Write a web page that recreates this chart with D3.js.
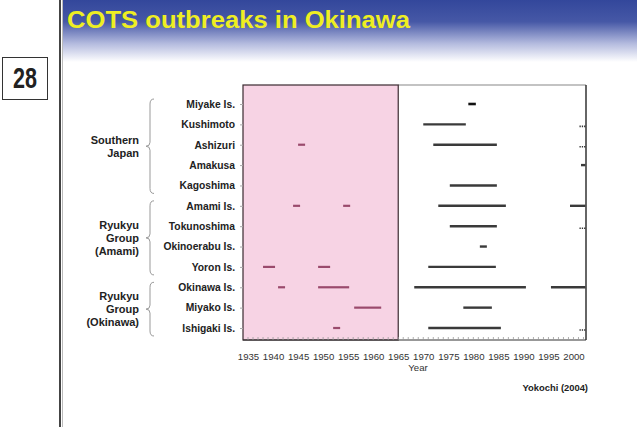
<!DOCTYPE html>
<html>
<head>
<meta charset="utf-8">
<script src="https://cdn.jsdelivr.net/npm/d3@7"></script>
<style>
  body { margin: 0; background: #fff; }
  svg { display: block; font-family: "Liberation Sans", Arial, sans-serif; }
</style>
</head>
<body>
<div id="chart"></div>
<script>
// sites, top to bottom
var sites = ["Miyake Is.", "Kushimoto", "Ashizuri", "Amakusa", "Kagoshima",
             "Amami Is.", "Tokunoshima", "Okinoerabu Is.", "Yoron Is.",
             "Okinawa Is.", "Miyako Is.", "Ishigaki Is."];

// outbreak periods before 1965 (pink area), [start, end] per site
var earlyOutbreaks = [
  [], [], [[1945, 1946.4]], [], [],
  [[1944, 1945.4], [1954, 1955.4]], [], [],
  [[1938, 1940.4], [1949, 1951.4]],
  [[1941, 1942.4], [1949, 1955.2]],
  [[1956.2, 1961.6]],
  [[1952, 1953.4]]
];

// outbreak periods after 1965
var lateOutbreaks = [
  [[1979, 1980.5]],
  [[1970, 1978.5]],
  [[1972, 1984.7]],
  [[2001.5, 2002.4]],
  [[1975.3, 1984.7]],
  [[1973, 1986.5], [1999.3, 2002.4]],
  [[1975.3, 1984.7]],
  [[1981.3, 1982.7]],
  [[1971, 1984.5]],
  [[1968.2, 1990.5], [1995.5, 2002.4]],
  [[1978, 1983.7]],
  [[1971, 1985.5]]
];

// sites where outbreaks still go on ("...")
var continuing = ["Kushimoto", "Ashizuri", "Tokunoshima", "Ishigaki Is."];

var groupNames = [["Southern", "Japan"], ["Ryukyu", "Group", "(Amami)"], ["Ryukyu", "Group", "(Okinawa)"]];
var groupFirst = ["Miyake Is.", "Amami Is.", "Okinawa Is."];
var groupLast = ["Kagoshima", "Yoron Is.", "Ishigaki Is."];

var yearTicks = [1935, 1940, 1945, 1950, 1955, 1960, 1965, 1970, 1975, 1980, 1985, 1990, 1995, 2000];
var boundaryYear = 1965;

var W = 637, H = 427;
var plot = {left: 243, right: 586, top: 85, bottom: 340};
var FONT = "'Liberation Sans', Arial, sans-serif";

var svg = d3.select("#chart").append("svg")
    .attr("width", W).attr("height", H);

// slide header gradient
var defs = svg.append("defs");
var grad = defs.append("linearGradient").attr("id", "hdr")
    .attr("x1", 0).attr("y1", 0).attr("x2", 0).attr("y2", 1);
grad.append("stop").attr("offset", "0%").attr("stop-color", "#33479b");
grad.append("stop").attr("offset", "35%").attr("stop-color", "#4658a6");
grad.append("stop").attr("offset", "70%").attr("stop-color", "#b3bade");
grad.append("stop").attr("offset", "100%").attr("stop-color", "#ffffff");

svg.append("rect").attr("x", 62).attr("y", 0).attr("width", W - 62).attr("height", 62)
    .attr("fill", "url(#hdr)");

svg.append("line").attr("x1", 60).attr("x2", 60).attr("y1", 0).attr("y2", H)
    .attr("stroke", "#444").attr("stroke-width", 2);
svg.append("line").attr("x1", 62.5).attr("x2", 62.5).attr("y1", 0).attr("y2", H)
    .attr("stroke", "#bbb").attr("stroke-width", 1);

svg.append("text").attr("x", 67).attr("y", 28)
    .attr("font-size", 24).attr("font-weight", "bold")
    .attr("fill", "#eeee22")
    .attr("textLength", 343).attr("lengthAdjust", "spacingAndGlyphs")
    .text("COTS outbreaks in Okinawa");

// page number box
svg.append("rect").attr("x", 2.5).attr("y", 57.5).attr("width", 45).attr("height", 42)
    .attr("fill", "#fff").attr("stroke", "#333").attr("stroke-width", 1);
svg.append("text").attr("x", 13).attr("y", 88)
    .attr("font-size", 30).attr("font-weight", "bold").attr("fill", "#222")
    .attr("textLength", 24).attr("lengthAdjust", "spacingAndGlyphs")
    .text("28");

// scales
var x = d3.scaleLinear().domain([1934, 2002.5]).range([plot.left, plot.right]);
var y = d3.scalePoint().domain(sites).range([104, 328]);

// plot areas
svg.append("rect")
    .attr("x", plot.left).attr("y", plot.top)
    .attr("width", x(boundaryYear) - plot.left).attr("height", plot.bottom - plot.top)
    .attr("fill", "#f7d3e4");
svg.append("line").attr("x1", x(boundaryYear)).attr("x2", plot.right)
    .attr("y1", plot.top).attr("y2", plot.top)
    .attr("stroke", "#888").attr("stroke-width", 1.2);
svg.append("rect")
    .attr("x", plot.left).attr("y", plot.top)
    .attr("width", x(boundaryYear) - plot.left).attr("height", plot.bottom - plot.top)
    .attr("fill", "none").attr("stroke", "#3a2a30").attr("stroke-width", 1.2);
svg.append("line").attr("x1", plot.right).attr("x2", plot.right)
    .attr("y1", plot.top).attr("y2", plot.bottom)
    .attr("stroke", "#333").attr("stroke-width", 1.5);
svg.append("line").attr("x1", plot.left).attr("x2", plot.right)
    .attr("y1", plot.bottom).attr("y2", plot.bottom)
    .attr("stroke", "#333").attr("stroke-width", 1.2);

// yearly minor ticks inside bottom edge
svg.append("g").selectAll("line")
    .data(d3.range(1935, 2003))
    .enter().append("line")
    .attr("x1", function(d) { return x(d); })
    .attr("x2", function(d) { return x(d); })
    .attr("y1", plot.bottom - 3).attr("y2", plot.bottom)
    .attr("stroke", "#999").attr("stroke-width", 0.8);

// x axis labels
var xAxis = svg.append("g")
    .attr("transform", "translate(0," + plot.bottom + ")")
    .call(d3.axisBottom(x).tickValues(yearTicks).tickFormat(d3.format("d")).tickSize(0).tickPadding(13));
xAxis.select(".domain").remove();
xAxis.selectAll("text").attr("font-size", 9.6).attr("fill", "#333")
    .attr("font-family", FONT);

svg.append("text").attr("x", 418).attr("y", 371).attr("text-anchor", "middle")
    .attr("font-size", 9.6).attr("fill", "#333").text("Year");

svg.append("text").attr("x", 588).attr("y", 391).attr("text-anchor", "end")
    .attr("font-size", 9.4).attr("font-weight", "bold").attr("fill", "#222")
    .text("Yokochi (2004)");

// y axis: site labels + small outside ticks
var yAxis = svg.append("g")
    .attr("transform", "translate(" + plot.left + ",0)")
    .call(d3.axisLeft(y).tickSize(3).tickPadding(5));
yAxis.select(".domain").remove();
yAxis.selectAll("line").attr("stroke", "#aaa");
yAxis.selectAll("text").attr("font-size", 10.3).attr("font-weight", "bold")
    .attr("fill", "#222").attr("font-family", FONT);

// outbreak segments
function drawSpans(data, color, width) {
  var rows = svg.append("g").selectAll("g")
      .data(data).enter().append("g");
  rows.selectAll("line")
      .data(function(d, i) { return d.map(function(s) { return {site: sites[i], s: s}; }); })
      .enter().append("line")
      .attr("x1", function(d) { return x(d.s[0]); })
      .attr("x2", function(d) { return x(d.s[1]); })
      .attr("y1", function(d) { return y(d.site); })
      .attr("y2", function(d) { return y(d.site); })
      .attr("stroke", function(d) { return d.site === "Miyake Is." ? "#111" : color; })
      .attr("stroke-width", function(d) { return d.site === "Miyake Is." ? 2.6 : width; });
}
drawSpans(earlyOutbreaks, "#9a4a6c", 2.2);
drawSpans(lateOutbreaks, "#3a3a3a", 2.4);

// "..." continuing marks
svg.append("g").selectAll("line")
    .data(continuing).enter().append("line")
    .attr("x1", x(2001.2)).attr("x2", x(2002.4))
    .attr("y1", function(d) { return y(d) + 2; })
    .attr("y2", function(d) { return y(d) + 2; })
    .attr("stroke", "#333").attr("stroke-width", 1.6)
    .attr("stroke-dasharray", "1.3,1");

// group braces and labels
var braceX = 150;
groupNames.forEach(function(lines, i) {
  var y0 = y(groupFirst[i]) - 5, y1 = y(groupLast[i]) + 8;
  var ym = (y0 + y1) / 2;
  var p = d3.path();
  p.moveTo(braceX + 4, y0);
  p.quadraticCurveTo(braceX, y0, braceX, y0 + 5);
  p.lineTo(braceX, ym - 4);
  p.quadraticCurveTo(braceX, ym, braceX - 4, ym);
  p.quadraticCurveTo(braceX, ym, braceX, ym + 4);
  p.lineTo(braceX, y1 - 5);
  p.quadraticCurveTo(braceX, y1, braceX + 4, y1);
  svg.append("path").attr("d", p.toString())
      .attr("fill", "none").attr("stroke", "#999").attr("stroke-width", 1);

  var lh = 13;
  var top = ym - (lines.length - 1) * lh / 2 + 4;
  svg.append("g").selectAll("text")
      .data(lines).enter().append("text")
      .attr("x", 139).attr("text-anchor", "end")
      .attr("y", function(d, k) { return top + k * lh; })
      .attr("font-size", 11).attr("font-weight", "bold").attr("fill", "#222")
      .text(function(d) { return d; });
});
</script>
</body>
</html>
